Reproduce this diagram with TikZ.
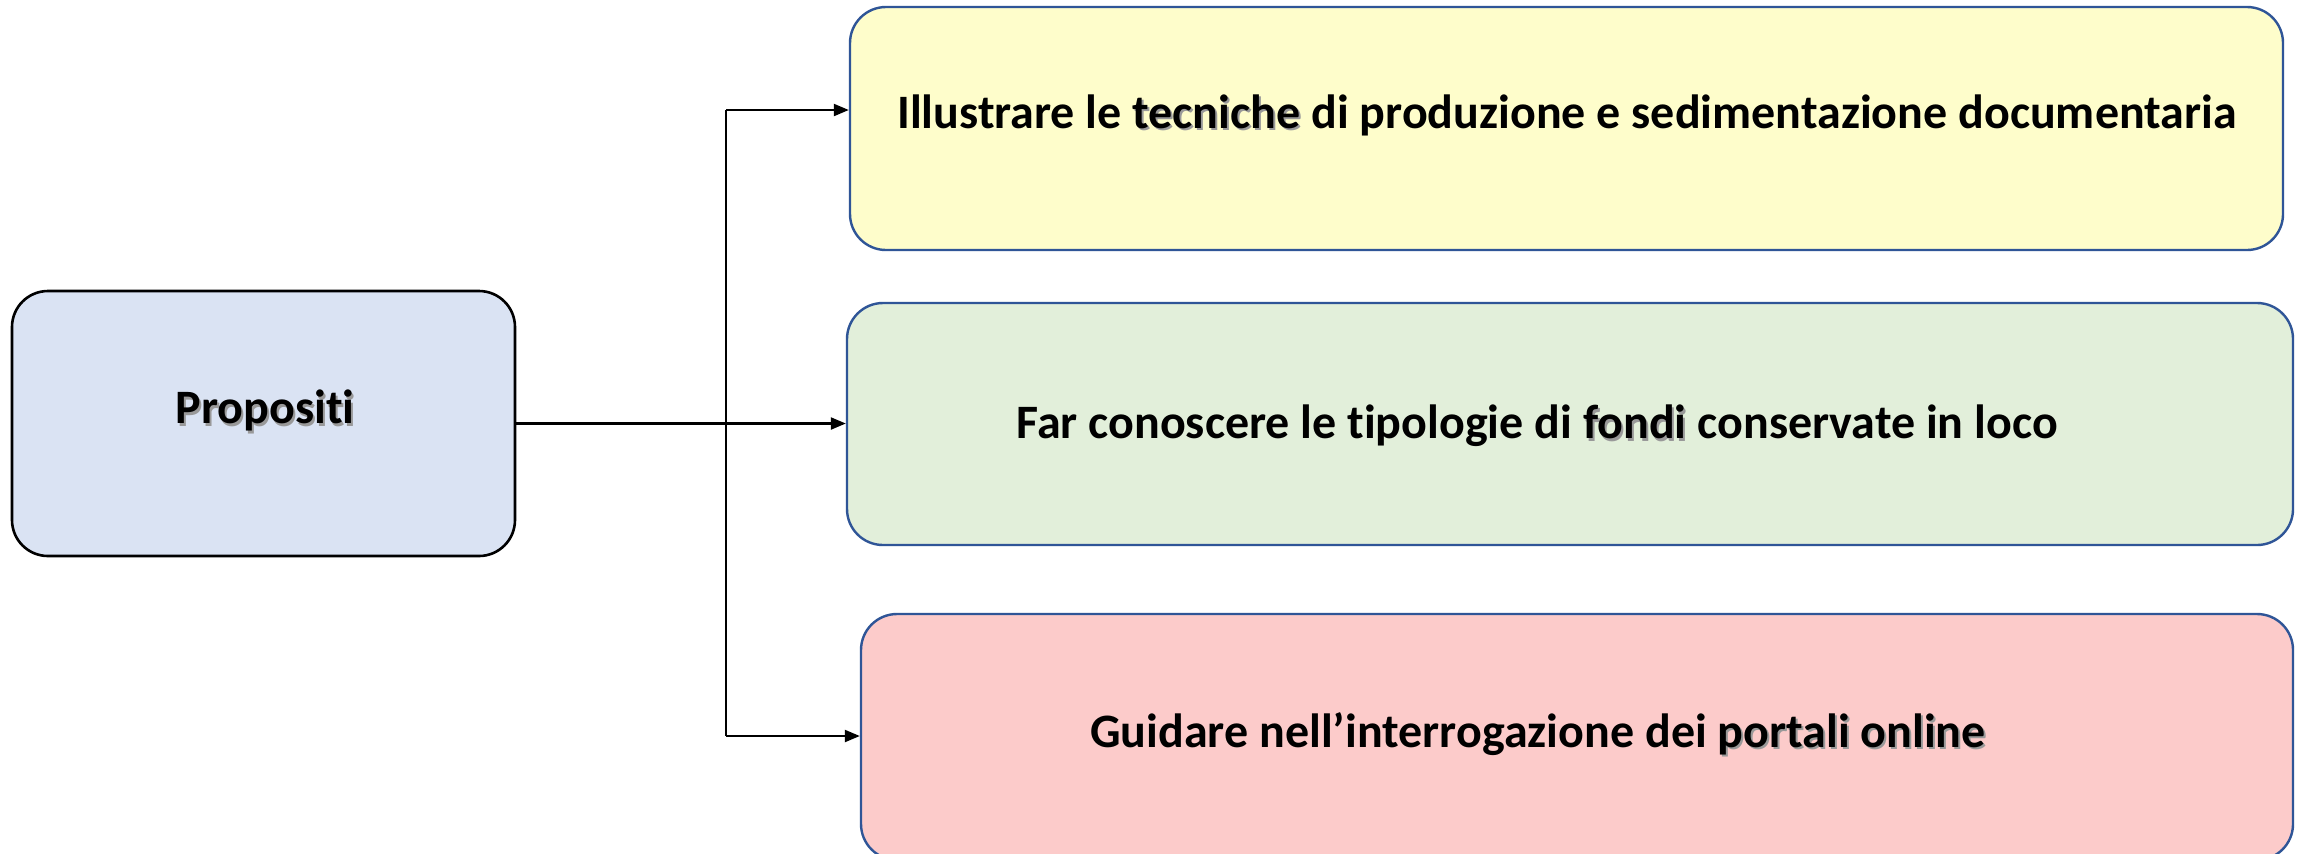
\documentclass[tikz,border=0pt]{standalone}
\usepackage{fontspec}
\setmainfont{Carlito}[Ligatures={NoCommon}]
\usetikzlibrary{arrows.meta}
\definecolor{bluefill}{HTML}{DAE3F3}
\definecolor{yellowfill}{HTML}{FEFDCB}
\definecolor{greenfill}{HTML}{E2EFDA}
\definecolor{pinkfill}{HTML}{FCCBCA}
\definecolor{boxline}{HTML}{2F5597}
\newcommand{\shd}[1]{\rlap{\textcolor{black!40}{\hspace{1pt}\raisebox{-1.2pt}{#1}}}#1}
\tikzset{
  rootbox/.style={draw=black, line width=1.3pt, fill=bluefill, rounded corners=18pt, inner sep=0pt},
  goalbox/.style={draw=boxline, line width=1.2pt, rounded corners=18pt, inner sep=0pt},
  lbl/.style={font=\fontsize{24}{29}\selectfont\bfseries, inner sep=0pt, anchor=center},
  arr/.style={line width=1.1pt, -{Triangle[length=7.5pt,width=6pt]}},
  plain/.style={line width=1.1pt}
}
\begin{document}
\begin{tikzpicture}[x=0.5pt,y=-0.5pt]
\clip (0,0) rectangle (2305,853);
\fill[white] (0,0) rectangle (2305,853);
% boxes
\node[rootbox, minimum width=251.5pt, minimum height=132.5pt] (root) at (263.5,423.5) {};
\node[goalbox, fill=yellowfill, minimum width=716.5pt, minimum height=121.5pt] (top) at (1566.5,128.5) {};
\node[goalbox, fill=greenfill, minimum width=723pt, minimum height=121pt] (mid) at (1570,424) {};
\node[goalbox, fill=pinkfill, minimum width=716pt, minimum height=123pt] (bot) at (1577,737) {};
% texts
\node[lbl] (troot) at (265,412) {\shd{Propositi}};
\node[lbl] (ttop) at (1567,115) {Illustrare le \shd{tecniche} di produzione e sedimentazione documentaria};
\node[lbl] (tmid) at (1537,426) {Far conoscere le tipologie di \shd{fondi} conservate in loco};
\node[lbl] (tbot) at (1538,735) {Guidare nell’interrogazione dei \shd{portali online}};
% connectors
\coordinate (jtop) at (726,110);
\coordinate (jbot) at (726,736);
\draw[arr] (root.east) -- (root.east -| mid.west);
\draw[plain] (jtop) -- (jbot);
\draw[arr] (jtop) -- (jtop -| top.west);
\draw[arr] (jbot) -- (jbot -| bot.west);
\end{tikzpicture}
\end{document}
